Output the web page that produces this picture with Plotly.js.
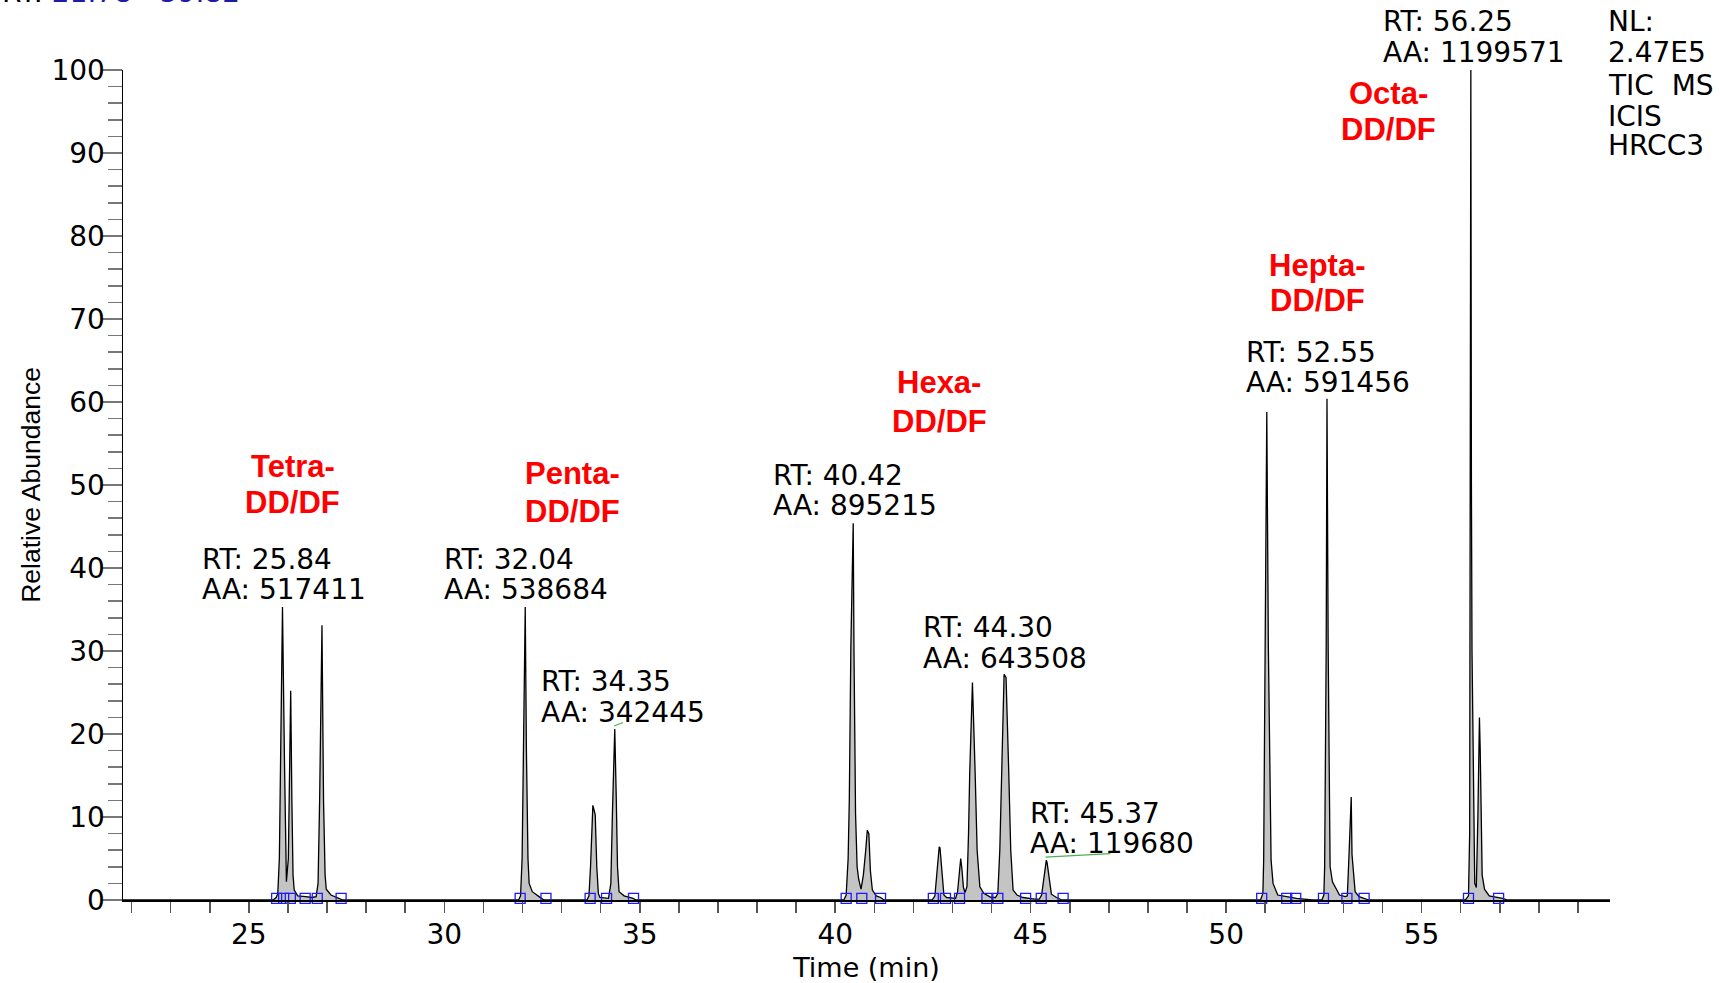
<!DOCTYPE html>
<html>
<head>
<meta charset="utf-8">
<script src="https://cdn.plot.ly/plotly-3.0.1.min.js"></script>
<style>
  html, body { margin: 0; padding: 0; background: #ffffff; overflow: hidden; }
  #chart { width: 1720px; height: 983px; }
</style>
</head>
<body>
<div id="chart"></div>
<script>
// ---- Chromatogram data (retention time in min, relative abundance in %) ----
const startRT = [21.78, 25.62];
const startAb = [0, 0];

const tetraRT = [25.70, 25.74, 25.78, 25.81, 25.86, 25.91, 25.94, 25.96,
                 26.01, 26.04, 26.07, 26.10, 26.13, 26.16, 26.25, 26.45, 26.62,
                 26.72, 26.77, 26.81, 26.87, 26.91, 26.95, 26.98, 27.10, 27.30, 27.40];
const tetraAb = [0.3, 0.8, 5, 17, 35.3, 17, 5, 2.2,
                 5, 15, 25.2, 12, 3, 1.2, 0.5, 0.4, 0.3,
                 0.4, 2, 12, 33.1, 12, 3, 1.3, 0.6, 0.2, 0];

const pentaRT = [31.90, 31.95, 31.99, 32.02, 32.07, 32.10, 32.14, 32.17, 32.25, 32.44, 32.55,
                 33.65, 33.70, 33.74, 33.80, 33.86, 33.90, 33.94, 33.98,
                 34.20, 34.26, 34.30, 34.36, 34.40, 34.43, 34.47, 34.60, 34.83, 34.90];
const pentaAb = [0, 0.5, 5, 18, 35.3, 18, 5, 2, 1.0, 0.35, 0,
                 0, 0.5, 4, 11.4, 10.3, 4, 0.8, 0.3,
                 0.2, 2, 10.4, 20.6, 12, 4, 1, 0.5, 0.2, 0];

const hexaRT = [40.22, 40.28, 40.33, 40.36, 40.40, 40.46, 40.48, 40.52, 40.56, 40.60, 40.66, 40.72, 40.78, 40.82, 40.86, 40.90, 40.95, 41.05, 41.16, 41.25,
                42.48, 42.55, 42.60, 42.66, 42.68, 42.73, 42.78, 42.85, 43.00,
                43.08, 43.13, 43.17, 43.21, 43.24, 43.28, 43.32, 43.37, 43.41, 43.44, 43.51, 43.54, 43.58, 43.63, 43.70, 43.80, 43.99,
                44.10, 44.16, 44.21, 44.25, 44.32, 44.37, 44.40, 44.44, 44.49, 44.55, 44.65, 44.80, 45.10,
                45.22, 45.28, 45.34, 45.40, 45.42, 45.47, 45.53, 45.66, 45.80];
const hexaAb = [0, 0.6, 5, 12, 30.5, 45.4, 30, 10.4, 4, 2.5, 1.3, 3, 6, 8.4, 8.0, 3.5, 1.2, 0.5, 0.3, 0,
                0, 0.5, 3.2, 6.4, 6.3, 3.2, 0.6, 0.3, 0.2,
                0.2, 1, 3, 5.0, 3.8, 1.5, 0.9, 1.6, 8, 15.2, 26.2, 20, 15.2, 6, 1.6, 0.8, 0.3,
                0.3, 0.8, 6, 15.2, 27.2, 26.8, 20, 15.2, 6, 1.2, 0.6, 0.3, 0.1,
                0.1, 0.6, 2.6, 4.8, 4.5, 2.6, 0.7, 0.3, 0];

const heptaRT = [50.88, 50.94, 50.96, 51.00, 51.04, 51.08, 51.15, 51.20, 51.32, 51.55, 51.80, 52.20,
                 52.45, 52.50, 52.52, 52.56, 52.58, 52.61, 52.66, 52.72, 52.80, 52.90, 53.05,
                 53.10, 53.14, 53.18, 53.20, 53.22, 53.26, 53.30, 53.40, 53.55, 53.65];
const heptaAb = [0, 0.8, 4.8, 30.5, 58.8, 30.5, 4.8, 2, 0.6, 0.4, 0.2, 0,
                 0, 0.6, 4, 30.5, 60.4, 30.5, 4, 2.2, 1.5, 0.6, 0.4,
                 0.5, 5, 12.0, 12.4, 5.5, 3.5, 1.0, 0.4, 0.2, 0];

const octaRT = [56.12, 56.20, 56.23, 56.25, 56.26, 56.275, 56.29, 56.36, 56.40, 56.44, 56.48, 56.50, 56.55, 56.61, 56.73, 57.07, 57.20];
const octaAb = [0, 0.5, 8, 50, 100, 50, 30, 2.0, 1.5, 10, 22.0, 18, 3, 1.3, 0.5, 0.2, 0];

const endRT = [59.82];
const endAb = [0];

// integration boundary markers (min)
const boundaryRT = [25.71, 25.89, 26.06, 26.44, 26.75, 27.36,
                    31.94, 32.60, 33.73, 34.15, 34.84,
                    40.28, 40.68, 41.16, 42.51, 42.82, 43.18, 43.88, 44.16, 44.87, 45.27, 45.83,
                    50.91, 51.55, 51.78, 52.49, 53.09, 53.53,
                    56.20, 56.97];

// labels
const peakRTLabels = ['RT: 25.84', 'RT: 32.04', 'RT: 34.35', 'RT: 40.42', 'RT: 44.30', 'RT: 45.37', 'RT: 52.55', 'RT: 56.25'];
const peakAALabels = ['AA: 517411', 'AA: 538684', 'AA: 342445', 'AA: 895215', 'AA: 643508', 'AA: 119680', 'AA: 591456', 'AA: 1199571'];
const groupLabels = ['Tetra-', 'Penta-', 'Hexa-', 'Hepta-', 'Octa-'];
const groupSuffix = 'DD/DF';
const infoLines = ['NL:', '2.47E5', 'TIC\u00a0 MS', 'ICIS', 'HRCC3'];
const rangeLabel = ['RT:', '21.78 - 59.82'];

// ---- build ----
const rt = [].concat(startRT, tetraRT, pentaRT, hexaRT, heptaRT, octaRT, endRT);
const abundance = [].concat(startAb, tetraAb, pentaAb, hexaAb, heptaAb, octaAb, endAb);

const traces = [
  {
    type: 'scatter', mode: 'lines', x: rt, y: abundance,
    fill: 'tozeroy', fillcolor: '#c4c4c4',
    line: { color: '#000000', width: 1.3 },
    hoverinfo: 'x+y'
  },
  {
    type: 'scatter', mode: 'markers', x: boundaryRT, y: boundaryRT.map(() => 0.2),
    marker: { symbol: 'square-open', size: 10, color: '#1a1aff', line: { width: 1.3, color: '#1a1aff' } },
    cliponaxis: false, hoverinfo: 'x'
  }
];

// label placement (layout only; x in minutes, y in % of the 0-100 axis -> paper units)
const rtLabelPos = [[23.74, 41.0, 37.45], [29.94, 41.0, 37.45], [32.43, 26.36, 22.6], [38.35, 51.2, 47.5],
                    [42.20, 32.8, 29.1], [44.92, 10.44, 6.75], [50.45, 66.0, 62.3], [53.95, 105.8, 102.1]];
const groupPos = [[26.12, 52.25, 47.9], [33.28, 51.33, 46.83], [42.66, 62.3, 57.68], [52.33, 76.45, 72.2], [54.15, 97.2, 92.85]];
const infoPos = { x: 59.71, y: [105.8, 102.1, 98.1, 94.4, 90.9] };

const annotations = [];
const numFont = { family: 'DejaVu Sans', size: 28, color: '#000000' };
function ann(x, yPct, text, xanchor, font) {
  return { x: x, y: yPct / 100, xref: 'x', yref: 'paper', text: text, showarrow: false,
           xanchor: xanchor, yanchor: 'middle', font: font };
}
peakRTLabels.forEach((t, i) => {
  const p = rtLabelPos[i];
  annotations.push(ann(p[0], p[1], t, 'left', numFont));
  annotations.push(ann(p[0], p[2], peakAALabels[i], 'left', numFont));
});
const redFont = { family: 'Liberation Sans, Arial, sans-serif', size: 31, color: '#ff0000', weight: 'bold' };
groupLabels.forEach((g, i) => {
  const p = groupPos[i];
  annotations.push(ann(p[0], p[1], '<b>' + g + '</b>', 'center', redFont));
  annotations.push(ann(p[0], p[2], '<b>' + groupSuffix + '</b>', 'center', redFont));
});
infoLines.forEach((t, i) => {
  annotations.push(ann(infoPos.x, infoPos.y[i], t, 'left', numFont));
});
annotations.push({
  x: -0.083, y: 1.0934, xref: 'paper', yref: 'paper', xanchor: 'left', yanchor: 'middle', showarrow: false,
  text: rangeLabel[0] + ' <span style="color:#1c1ca8">' + rangeLabel[1] + '</span>', font: numFont
});

const shapes = [
  { type: 'line', xref: 'x', yref: 'y', x0: 34.34, y0: 20.97, x1: 34.57, y1: 21.38, line: { color: '#4caf50', width: 1.2 } },
  { type: 'line', xref: 'x', yref: 'y', x0: 45.38, y0: 5.17, x1: 47.04, y1: 5.58, line: { color: '#4caf50', width: 1.2 } }
];

const layout = {
  width: 1720, height: 983,
  margin: { l: 123, r: 110, t: 70, b: 83, pad: 0 },
  paper_bgcolor: '#ffffff', plot_bgcolor: '#ffffff',
  showlegend: false,
  font: { family: 'DejaVu Sans', size: 27, color: '#000000' },
  xaxis: {
    range: [21.78, 59.82], dtick: 5, tick0: 0,
    ticks: 'outside', ticklen: 11, tickwidth: 1.5, tickcolor: '#555555',
    minor: { dtick: 1, tick0: 0, ticks: 'outside', ticklen: 11, tickwidth: 1.5, tickcolor: '#555555', showgrid: false },
    showline: true, linecolor: '#000000', linewidth: 2,
    showgrid: false, zeroline: false,
    tickfont: { family: 'DejaVu Sans', size: 28, color: '#000000' },
    ticklabelstandoff: -3,
    title: { text: 'Time (min)', font: { family: 'DejaVu Sans', size: 27, color: '#000000' }, standoff: 13 }
  },
  yaxis: {
    range: [0, 100], dtick: 10, tick0: 0,
    ticks: 'outside', ticklen: 20, tickwidth: 1.5, tickcolor: '#777777',
    minor: { dtick: 2, tick0: 0, ticks: 'outside', ticklen: 14, tickwidth: 1.5, tickcolor: '#777777', showgrid: false },
    showline: true, linecolor: '#000000', linewidth: 1.5,
    showgrid: false, zeroline: false,
    tickfont: { family: 'DejaVu Sans', size: 28, color: '#000000' },
    ticklabelstandoff: -9,
    title: { text: 'Relative Abundance', font: { family: 'Liberation Sans, Arial, sans-serif', size: 26.5, color: '#000000' }, standoff: 3 }
  },
  annotations: annotations,
  shapes: shapes
};

Plotly.newPlot('chart', traces, layout, { staticPlot: true, displayModeBar: false });
</script>
</body>
</html>
